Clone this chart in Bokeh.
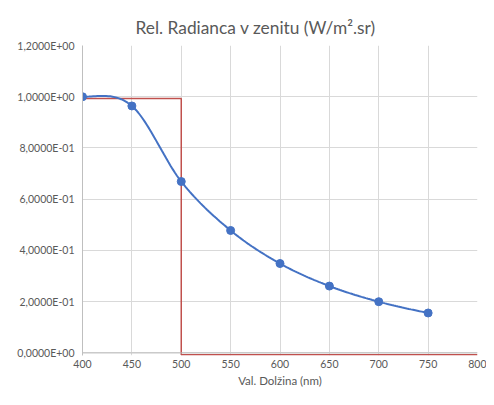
import numpy as np
from bokeh.plotting import figure
from bokeh.models import Range1d, FixedTicker, Span, CustomJSTickFormatter
from bokeh.embed import file_html
from bokeh.resources import INLINE

# ---- data ----
wavelength = [400, 450, 500, 550, 600, 650, 700, 750]
radiance = [1.0, 0.964, 0.669, 0.478, 0.349, 0.261, 0.200, 0.156]

step_x = [400, 500, 500, 800]
step_y = [0.993, 0.993, -0.007, -0.007]

x_ticks = [400, 450, 500, 550, 600, 650, 700, 750, 800]
y_ticks = [0.0, 0.2, 0.4, 0.6, 0.8, 1.0, 1.2]
y_tick_labels = ["0,0000E+00", "2,0000E-01", "4,0000E-01", "6,0000E-01",
                 "8,0000E-01", "1,0000E+00", "1,2000E+00"]

title_text = "Rel. Radianca v zenitu (W/m\u00b2.sr)"
x_label = "Val. Dol\u017eina (nm)"

TEXT = "#595959"
GRID = "#d9d9d9"
AXIS = "#bfbfbf"
BLUE = "#4472C4"
RED = "#C0504D"
FONT = "Lato"


def smooth_curve(xs, ys, n=24):
    """Cubic Hermite (Catmull-Rom) smoothing through the given points."""
    P = np.column_stack([xs, ys]).astype(float)
    k = len(P)
    m = np.zeros_like(P)
    for i in range(1, k - 1):
        m[i] = (P[i + 1] - P[i - 1]) / 2.0
    m[0] = (3 * (P[1] - P[0]) - m[1]) / 2.0
    m[0][1] = 0.0  # flat start of the smoothed line
    m[-1] = (3 * (P[-1] - P[-2]) - m[-2]) / 2.0
    out = []
    t = np.linspace(0, 1, n)
    h00 = 2 * t**3 - 3 * t**2 + 1
    h10 = t**3 - 2 * t**2 + t
    h01 = -2 * t**3 + 3 * t**2
    h11 = t**3 - t**2
    for i in range(k - 1):
        seg = (np.outer(h00, P[i]) + np.outer(h10, m[i]) +
               np.outer(h01, P[i + 1]) + np.outer(h11, m[i + 1]))
        out.append(seg if i == 0 else seg[1:])
    c = np.vstack(out)
    return c[:, 0], c[:, 1]


cx, cy = smooth_curve(wavelength, radiance)

p = figure(width=486, height=389, output_backend="svg", toolbar_location=None,
           x_range=Range1d(400, 800), y_range=Range1d(-0.01, 1.2),
           min_border_left=82, min_border_right=9, min_border_top=45,
           min_border_bottom=29)
p.outline_line_color = None
p.background_fill_color = "white"
p.border_fill_color = "white"

p.title.text = title_text
p.title.text_font = FONT
p.title.text_font_size = "13pt"
p.title.text_font_style = "normal"
p.title.text_color = TEXT
p.title.align = "left"
p.title.offset = 53
p.title.standoff = 15

# grid
p.xgrid.ticker = FixedTicker(ticks=x_ticks)
p.ygrid.ticker = FixedTicker(ticks=y_ticks)
p.xgrid.grid_line_color = GRID
p.ygrid.grid_line_color = GRID

# x axis
xa = p.xaxis[0]
xa.ticker = FixedTicker(ticks=x_ticks)
xa.axis_line_color = None
xa.major_tick_line_color = None
xa.minor_tick_line_color = None
xa.major_tick_out = 0
xa.major_label_text_font = FONT
xa.major_label_text_font_size = "10.5px"
xa.major_label_text_color = TEXT
xa.major_label_standoff = 4
xa.axis_label = x_label
xa.axis_label_text_font = FONT
xa.axis_label_text_font_size = "11.5px"
xa.axis_label_text_font_style = "normal"
xa.axis_label_text_color = TEXT
xa.axis_label_standoff = 3

# y axis
ya = p.yaxis[0]
ya.ticker = FixedTicker(ticks=y_ticks)
ya.formatter = CustomJSTickFormatter(
    args=dict(tk=y_ticks, lbl=y_tick_labels),
    code="const i = tk.findIndex(t => Math.abs(t - tick) < 1e-9);"
         " return i >= 0 ? lbl[i] : '';")
ya.axis_line_color = AXIS
ya.major_tick_line_color = None
ya.minor_tick_line_color = None
ya.major_tick_out = 0
ya.major_label_text_font = FONT
ya.major_label_text_font_size = "10.5px"
ya.major_label_text_color = TEXT
ya.major_label_standoff = 8

# horizontal axis line at zero
p.add_layout(Span(location=0, dimension="width", line_color=AXIS, line_width=1))

# red step series
p.line(step_x, step_y, line_color=RED, line_width=1.5)

# blue smoothed series with markers
p.line(cx, cy, line_color=BLUE, line_width=2)
p.scatter(wavelength, radiance, size=8, fill_color=BLUE, line_color=BLUE)

open("out.html", "w").write(file_html(p, INLINE))
